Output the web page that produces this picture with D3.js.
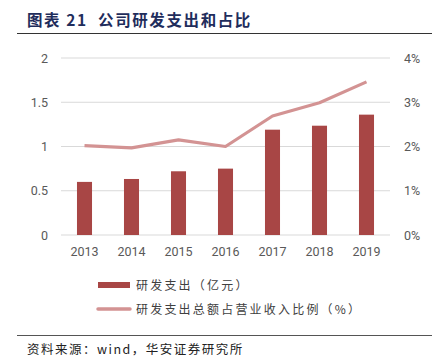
<!DOCTYPE html>
<html><head><meta charset="utf-8">
<script src="https://cdn.jsdelivr.net/npm/d3@7/dist/d3.min.js"></script>
<style>body{margin:0;background:#fff}svg{display:block}</style>
</head><body>
<script>
const years = ["2013","2014","2015","2016","2017","2018","2019"];
const rdSpend = [0.60, 0.633, 0.72, 0.75, 1.19, 1.235, 1.36];
const rdRatio = [2.02, 1.97, 2.15, 2.00, 2.69, 2.99, 3.46];
const leftTicks = [0, 0.5, 1, 1.5, 2];
const rightTicks = [0, 1, 2, 3, 4];
const legendLabels = ["研发支出（亿元）", "研发支出总额占营业收入比例（%）"];
const titleText = "图表 21\u00a0\u00a0公司研发支出和占比";
const sourceText = "资料来源：wind，华安证券研究所";

const W = 442, H = 363;
const svg = d3.select("body").append("svg").attr("width", W).attr("height", H);
const font = "'Noto Sans CJK SC', 'Noto Sans', sans-serif";
const barColor = "#a84645", lineColor = "#d39393";

// title
svg.append("text").attr("x", 27).attr("y", 26).text(titleText)
  .attr("font-family", font).attr("font-size", 15.5).attr("font-weight", "bold")
  .attr("letter-spacing", 1.6).attr("fill", "#1f2d5c");
svg.append("line").attr("x1", 17).attr("x2", 432).attr("y1", 33.5).attr("y2", 33.5)
  .attr("stroke", "#333").attr("stroke-width", 1);

const x0 = 61, x1 = 390, yTop = 58, yBot = 235;
const x = d3.scaleBand().domain(years).range([x0, x1]).paddingInner(0.68).paddingOuter(0.34);
const yL = d3.scaleLinear().domain([0, 2]).range([yBot, yTop]);
const yR = d3.scaleLinear().domain([0, 4]).range([yBot, yTop]);

// gridlines
svg.append("g").selectAll("line").data(leftTicks).join("line")
  .attr("x1", x0).attr("x2", x1).attr("y1", d => yL(d)).attr("y2", d => yL(d))
  .attr("stroke", "#d9d9d9").attr("stroke-width", 1);

const tickFont = "Roboto, 'Liberation Sans', Arial, sans-serif";
// left axis
const gl = svg.append("g").attr("transform", `translate(${x0 - 10},0)`)
  .call(d3.axisLeft(yL).tickValues(leftTicks).tickSize(0).tickFormat(d => d3.format("")(d)));
gl.select(".domain").remove();
gl.selectAll("text").attr("font-family", tickFont).attr("font-size", 12.5).attr("fill", "#595959");

// right axis
const gr = svg.append("g").attr("transform", `translate(${x1 + 11},0)`)
  .call(d3.axisRight(yR).tickValues(rightTicks).tickSize(0).tickFormat(d => d + "%"));
gr.select(".domain").remove();
gr.selectAll("text").attr("font-family", tickFont).attr("font-size", 12.5).attr("fill", "#595959");

// bottom axis
const gb = svg.append("g").attr("transform", `translate(0,${yBot + 9})`)
  .call(d3.axisBottom(x).tickSize(0));
gb.select(".domain").remove();
gb.selectAll("text").attr("font-family", tickFont).attr("font-size", 12.5).attr("fill", "#595959");

// bars
svg.append("g").selectAll("rect").data(years).join("rect")
  .attr("x", d => x(d)).attr("width", x.bandwidth())
  .attr("y", (d, i) => yL(rdSpend[i])).attr("height", (d, i) => yBot - yL(rdSpend[i]))
  .attr("fill", barColor);

// line
const line = d3.line().x((d, i) => x(years[i]) + x.bandwidth() / 2).y(d => yR(d));
svg.append("path").datum(rdRatio).attr("d", line)
  .attr("fill", "none").attr("stroke", lineColor).attr("stroke-width", 3.2)
  .attr("stroke-linejoin", "round");

// legend
const lg = svg.append("g");
lg.append("rect").attr("x", 98).attr("y", 282).attr("width", 32).attr("height", 6).attr("fill", barColor);
lg.append("line").attr("x1", 98).attr("x2", 130).attr("y1", 309).attr("y2", 309)
  .attr("stroke", lineColor).attr("stroke-width", 3.5).attr("stroke-linecap", "round");
lg.selectAll("text").data(legendLabels).join("text")
  .attr("x", 136).attr("y", (d, i) => 289.5 + i * 24).text(d => d)
  .attr("font-family", font).attr("font-size", 12).attr("letter-spacing", 2.2).attr("fill", "#404040");

// source
svg.append("line").attr("x1", 17).attr("x2", 432).attr("y1", 335.5).attr("y2", 335.5)
  .attr("stroke", "#555").attr("stroke-width", 1);
svg.append("text").attr("x", 27).attr("y", 354).text(sourceText)
  .attr("font-family", font).attr("font-size", 12.5).attr("letter-spacing", 1.5).attr("fill", "#222");
</script>
</body></html>
